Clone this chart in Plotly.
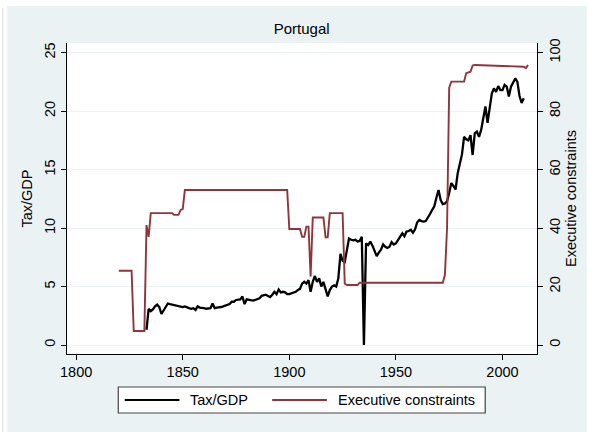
import plotly.graph_objects as go

# Tax revenue as a share of GDP (%), annual
tax_years = list(range(1833, 2011))
tax_gdp = [
    1.3, 3.1, 2.9, 3.05, 3.3, 3.45, 3.25, 2.65, 2.95, 3.3,          # 1833-1842
    3.55, 3.5, 3.45, 3.4, 3.35, 3.35, 3.3, 3.25, 3.3, 3.2,          # 1843-1852
    3.15, 3.1, 3.15, 3.0, 3.3, 3.2, 3.2, 3.15, 3.1, 3.1,            # 1853-1862
    3.15, 3.55, 3.15, 3.2, 3.2, 3.25, 3.3, 3.35, 3.4, 3.5,          # 1863-1872
    3.7, 3.7, 3.85, 3.85, 3.9, 4.15, 3.5, 3.9, 3.85, 3.85,          # 1873-1882
    3.8, 3.85, 3.95, 4.0, 4.2, 4.25, 4.3, 4.2, 4.1, 4.3,            # 1883-1892
    4.55, 4.35, 4.75, 4.5, 4.55, 4.5, 4.35, 4.35, 4.4, 4.5,         # 1893-1902
    4.55, 4.7, 4.8, 5.25, 5.4, 5.25, 5.55, 4.55, 5.4, 5.9,          # 1903-1912
    5.4, 5.7, 5.0, 5.4, 4.8, 4.15, 4.7, 5.0, 5.1, 5.0,              # 1913-1922
    5.7, 7.8, 7.2, 7.1, 8.1, 9.1, 9.0, 8.95, 9.0, 8.85,             # 1923-1932
    8.9, 9.25, 0.0, 8.7, 8.55, 8.85, 8.5, 8.1, 7.6, 7.9,            # 1933-1942
    8.15, 8.6, 8.4, 8.3, 8.4, 8.8, 8.6, 8.7, 9.0, 9.2,              # 1943-1952
    9.55, 9.3, 9.7, 9.75, 9.85, 9.6, 9.9, 10.5, 10.7, 10.6,         # 1953-1962
    10.55, 10.6, 10.85, 11.2, 11.55, 11.85, 12.6, 13.25, 12.4, 12.05,  # 1963-1972
    12.1, 12.3, 13.0, 13.85, 13.6, 13.3, 14.7, 15.5, 16.3, 17.8,    # 1973-1982
    17.6, 17.5, 17.95, 16.25, 18.1, 18.25, 17.8, 18.4, 19.3, 20.4,  # 1983-1992
    19.0, 20.1, 21.5, 21.95, 21.65, 22.15, 21.8, 21.8, 22.25, 22.1, # 1993-2002
    21.25, 22.1, 22.4, 22.8, 22.5, 21.3, 20.7, 21.1,                # 2003-2010
]

# Executive constraints index (0-100), values at the years where it changes
exec_years = [
    1820, 1826, 1827, 1832, 1833, 1834, 1835, 1845, 1846, 1848,
    1849, 1850, 1851, 1899, 1900, 1905, 1906, 1907, 1908, 1909,
    1910, 1911, 1916, 1917, 1918, 1919, 1925, 1926, 1927, 1932,
    1933, 1972, 1973, 1974, 1975, 1976, 1982, 1983, 1985,
    1986, 1987, 2009, 2010, 2011, 2012,
]
exec_constraints = [
    25.4, 25.4, 4.8, 4.8, 41.0, 37.0, 45.1, 45.1, 44.5, 44.5,
    46.2, 46.5, 53.0, 53.0, 39.7, 39.7, 37.0, 37.0, 40.5, 40.5,
    23.4, 43.6, 43.6, 36.8, 36.8, 45.1, 45.1, 21.0, 20.5, 20.5,
    21.3, 21.3, 24.0, 40.0, 88.0, 90.1, 90.1, 93.0, 93.5,
    95.6, 95.8, 95.3, 95.2, 94.7, 95.8,
]

x_ticks = [1800, 1850, 1900, 1950, 2000]
tax_ticks = [0, 5, 10, 15, 20, 25]
exec_ticks = [0, 20, 40, 60, 80, 100]

W, H = 589, 432
ML, MR, MT, MB = 67, 50, 43, 78
BG = "#EAF2F3"
RED = "#90353B"
FONT = "Liberation Sans, Arial, sans-serif"


def px_x(px):
    return (px - ML) / (W - ML - MR)


def px_y(py):
    return (H - MB - py) / (H - MT - MB)


fig = go.Figure()
fig.add_trace(go.Scatter(
    x=tax_years, y=tax_gdp, mode="lines", name="Tax/GDP",
    line=dict(color="black", width=2.3), yaxis="y",
))
fig.add_trace(go.Scatter(
    x=exec_years, y=exec_constraints, mode="lines", name="Executive constraints",
    line=dict(color=RED, width=1.9), yaxis="y2",
))

axis_common = dict(
    showline=True, linecolor="black", linewidth=1,
    ticks="outside", ticklen=5, tickcolor="black", tickwidth=1,
    zeroline=False, tickfont=dict(family=FONT, size=14.5, color="black"),
)

fig.update_layout(
    width=W, height=H,
    margin=dict(l=ML, r=MR, t=MT, b=MB),
    paper_bgcolor="white",
    plot_bgcolor="white",
    showlegend=False,
    font=dict(family=FONT, size=14.5, color="black"),
    title=dict(text="Portugal", x=px_x(302.7), xref="paper", xanchor="center",
               y=1 - 28.5 / H, yanchor="middle",
               font=dict(family=FONT, size=15, color="black")),
    xaxis=dict(range=[1795.7, 2016.2], tickvals=x_ticks, showgrid=False, **axis_common),
    yaxis=dict(range=[-0.77, 25.83], tickvals=tax_ticks, tickangle=-90,
               showgrid=True, gridcolor=BG, gridwidth=1,
               title=dict(text="Tax/GDP", font=dict(family=FONT, size=14.5), standoff=6),
               **axis_common),
    yaxis2=dict(range=[-3.08, 103.3], tickvals=exec_ticks, tickangle=-90,
                overlaying="y", side="right", showgrid=False,
                title=dict(text="Executive constraints", font=dict(family=FONT, size=14.5), standoff=3),
                **axis_common),
)

# Graph region background and outer frame line
fig.add_shape(type="rect", xref="paper", yref="paper", layer="below",
              x0=px_x(7), x1=px_x(W), y0=px_y(H), y1=px_y(6),
              fillcolor=BG, line=dict(width=0))
fig.add_shape(type="rect", xref="paper", yref="paper", layer="below",
              x0=px_x(ML), x1=px_x(W - MR), y0=0, y1=1,
              fillcolor="white", line=dict(width=0))
fig.add_shape(type="line", xref="paper", yref="paper",
              x0=px_x(2.5), x1=px_x(2.5), y0=px_y(H), y1=px_y(8),
              line=dict(color="#D8DEE0", width=1))

# Legend box
lg_top, lg_bot = 387, 413
lg_mid = (lg_top + lg_bot) / 2
fig.add_shape(type="rect", xref="paper", yref="paper",
              x0=px_x(118.5), x1=px_x(487), y0=px_y(lg_bot), y1=px_y(lg_top),
              fillcolor="white", line=dict(color="#444444", width=1.2))
legend_items = [
    ("Tax/GDP", "black", 2.0, 125, 180, 189),
    ("Executive constraints", RED, 1.8, 273, 328, 337),
]
for label, color, lw, x0, x1, tx in legend_items:
    fig.add_shape(type="line", xref="paper", yref="paper",
                  x0=px_x(x0), x1=px_x(x1), y0=px_y(lg_mid), y1=px_y(lg_mid),
                  line=dict(color=color, width=lw))
    fig.add_annotation(xref="paper", yref="paper", x=px_x(tx), y=px_y(lg_mid),
                       xanchor="left", yanchor="middle", showarrow=False,
                       text=label, font=dict(family=FONT, size=14.5, color="black"))

fig.write_html("out.html")
